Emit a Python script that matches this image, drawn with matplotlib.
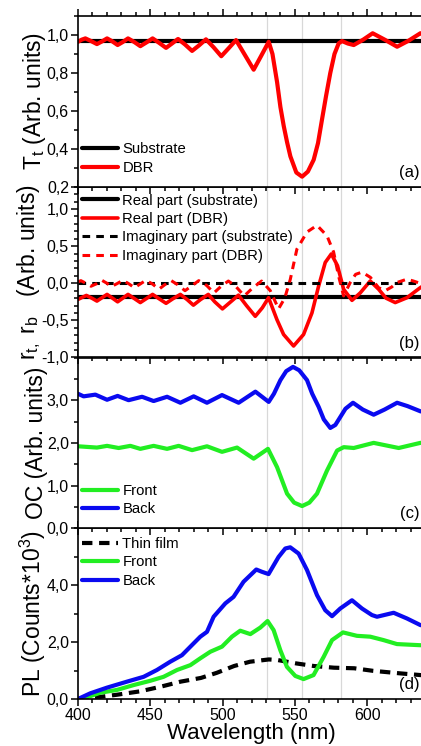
import numpy as np
import matplotlib
matplotlib.use("Agg")
import matplotlib.pyplot as plt
from matplotlib.ticker import MultipleLocator, FuncFormatter

plt.rcParams['font.family'] = ['Liberation Sans', 'DejaVu Sans']
plt.rcParams['mathtext.default'] = 'regular'
plt.rcParams['lines.solid_joinstyle'] = 'round'
plt.rcParams['lines.solid_capstyle'] = 'round'

# ---- data ----
# substrate lines (flat)
wl_sub = [400, 640]
T_sub = [0.97, 0.97]
r_real_sub = [-0.19, -0.19]
r_imag_sub = [0.0, 0.0]

# (a) transmittance of the DBR
wl_T = [400.0, 402.5, 405.1, 409.0, 413.1, 416.6, 420.1, 423.8, 427.4, 431.0,
        434.6, 438.9, 443.1, 447.4, 451.6, 456.2, 460.9, 465.0, 469.2, 474.0,
        478.9, 483.7, 488.5, 493.8, 499.1, 504.2, 509.3, 515.4, 521.5, 526.7,
        531.9, 534.5, 537.7, 540.0, 542.3, 544.6, 546.9, 551.0, 555.0, 559.0,
        563.0, 566.0, 568.8, 571.6, 574.5, 577.4, 580.3, 582.6, 586.6, 590.7,
        597.2, 603.8, 612.2, 620.7, 628.7, 636.8, 640.0]
T_dbr = [0.964, 0.975, 0.982, 0.968, 0.952, 0.966, 0.982, 0.966, 0.947, 0.963,
         0.982, 0.963, 0.941, 0.961, 0.982, 0.958, 0.932, 0.955, 0.979, 0.950,
         0.916, 0.945, 0.977, 0.935, 0.888, 0.930, 0.973, 0.895, 0.817, 0.890,
         0.964, 0.900, 0.751, 0.620, 0.520, 0.435, 0.360, 0.275, 0.253, 0.280,
         0.342, 0.430, 0.556, 0.680, 0.800, 0.900, 0.956, 0.968, 0.955, 0.947,
         0.975, 1.009, 0.975, 0.938, 0.970, 1.009, 1.005]

# (b) reflection coefficient, real part of the DBR
wl_rr = [400.0, 402.9, 405.8, 409.5, 413.1, 416.6, 420.1, 423.8, 427.4, 431.0,
         434.6, 438.9, 443.1, 447.4, 451.6, 456.2, 460.9, 465.5, 470.8, 475.5,
         479.8, 484.7, 490.1, 494.6, 499.9, 505.6, 511.0, 516.5, 522.6, 527.5,
         531.8, 537.6, 542.2, 549.1, 556.0, 561.8, 566.4, 571.0, 575.2, 579.5,
         583.7, 589.5, 595.2, 602.1, 607.9, 613.0, 619.4, 627.5, 636.7, 640.0]
r_real_dbr = [-0.218, -0.19, -0.164, -0.20, -0.24, -0.195, -0.15, -0.20, -0.25, -0.20,
              -0.15, -0.205, -0.26, -0.205, -0.15, -0.21, -0.27, -0.21, -0.15, -0.22,
              -0.295, -0.22, -0.15, -0.25, -0.345, -0.25, -0.16, -0.30, -0.445, -0.33,
              -0.195, -0.49, -0.69, -0.845, -0.69, -0.40, -0.04, 0.28, 0.395, 0.236,
              -0.08, -0.23, -0.13, 0.03, -0.08, -0.20, -0.26, -0.195, -0.06, -0.02]

# (b) imaginary part of the DBR
wl_ri = [400.0, 402.0, 405.5, 409.0, 413.0, 416.5, 420.0, 423.0, 427.0, 431.0,
         435.0, 439.0, 443.0, 447.0, 451.5, 456.0, 460.0, 464.5, 469.0, 474.0,
         479.0, 483.5, 489.0, 494.0, 499.0, 504.0, 509.0, 515.0, 521.0, 527.0,
         533.0, 538.7, 543.0, 546.8, 551.4, 558.4, 565.3, 572.2, 576.8, 580.2,
         583.7, 588.3, 592.0, 596.4, 602.2, 607.9, 612.5, 617.0, 620.6, 627.5,
         632.0, 638.0]
r_imag_dbr = [0.02, 0.035, 0.0, -0.04, -0.005, 0.04, 0.0, -0.045, -0.005, 0.04,
              -0.005, -0.06, -0.01, 0.04, -0.01, -0.08, -0.02, 0.035, -0.02, -0.10,
              -0.03, 0.035, -0.03, -0.13, -0.04, 0.03, -0.04, -0.17, -0.06, 0.03,
              -0.10, -0.345, -0.20, 0.05, 0.46, 0.69, 0.78, 0.64, 0.42, 0.10,
              -0.17, 0.01, 0.12, 0.15, 0.08, -0.06, -0.10, -0.05, 0.01, 0.055,
              0.03, -0.01]

# (c) outcoupling, front and back
wl_oc_back = [400.0, 403.9, 412.0, 420.1, 427.4, 435.0, 444.3, 452.3, 461.6, 470.8,
              480.0, 489.2, 499.6, 511.1, 522.7, 531.9, 535.5, 540.0, 544.0, 548.7,
              553.0, 558.4, 562.0, 566.5, 570.0, 574.5, 578.0, 581.5, 585.0, 590.2,
              597.0, 604.5, 612.0, 620.7, 628.0, 636.8, 640.0]
oc_back = [3.15, 3.09, 3.13, 3.01, 3.10, 3.00, 3.08, 2.98, 3.08, 2.94,
           3.09, 2.94, 3.12, 2.94, 3.20, 2.96, 3.15, 3.47, 3.68, 3.78,
           3.70, 3.47, 3.15, 2.84, 2.55, 2.35, 2.42, 2.61, 2.80, 2.94,
           2.78, 2.66, 2.78, 2.94, 2.86, 2.74, 2.72]

wl_oc_front = [400.0, 413.1, 420.1, 428.1, 436.2, 443.1, 452.3, 461.6, 469.6, 478.9,
               489.2, 499.6, 510.0, 521.5, 531.4, 537.7, 544.6, 549.5, 555.0, 560.0,
               565.3, 572.2, 579.2, 583.8, 590.7, 604.5, 621.8, 636.8, 640.0]
oc_front = [1.92, 1.89, 1.93, 1.88, 1.93, 1.86, 1.93, 1.86, 1.93, 1.83,
            1.92, 1.79, 1.89, 1.63, 1.86, 1.43, 0.81, 0.60, 0.52, 0.60,
            0.81, 1.35, 1.82, 1.90, 1.88, 2.00, 1.88, 2.00, 2.00]

# (d) photoluminescence
wl_pl_back = [400.0, 408.5, 420.1, 433.9, 445.4, 454.6, 463.8, 471.9, 479.9, 484.6,
              489.2, 493.8, 501.9, 507.6, 514.5, 523.3, 527.2, 531.8, 538.7, 543.4,
              546.8, 552.6, 558.4, 565.3, 571.0, 575.7, 581.4, 589.5, 596.4, 603.3,
              606.8, 618.3, 627.5, 636.7, 640.0]
pl_back = [0.0, 0.20, 0.40, 0.61, 0.78, 1.02, 1.31, 1.54, 1.95, 2.19,
           2.36, 2.89, 3.36, 3.59, 4.12, 4.55, 4.47, 4.39, 4.99, 5.29,
           5.33, 5.11, 4.53, 3.65, 3.12, 2.91, 3.18, 3.47, 3.18, 2.95,
           2.89, 3.03, 2.83, 2.60, 2.56]

wl_pl_front = [400.0, 408.5, 415.4, 427.0, 438.5, 450.0, 459.2, 468.5, 477.7, 484.6,
               491.5, 499.6, 506.5, 512.2, 519.2, 526.1, 531.1, 535.3, 539.9, 544.5,
               550.3, 556.0, 562.9, 569.9, 575.7, 583.3, 592.9, 602.1, 611.3, 620.6,
               636.7, 640.0]
pl_front = [0.0, 0.10, 0.22, 0.32, 0.49, 0.64, 0.78, 1.02, 1.19, 1.43,
            1.66, 1.84, 2.19, 2.40, 2.28, 2.51, 2.74, 2.42, 1.72, 1.13,
            0.81, 0.70, 0.84, 1.48, 2.07, 2.34, 2.22, 2.19, 2.07, 1.93,
            1.89, 1.89]

wl_pl_film = [400, 413, 427, 443, 457, 471, 485, 496, 508, 519,
              532, 538, 551, 563, 577, 591, 604, 623, 637, 640]
pl_film = [0.0, 0.06, 0.15, 0.27, 0.43, 0.61, 0.74, 0.92, 1.16, 1.31,
           1.39, 1.37, 1.25, 1.16, 1.10, 1.08, 0.99, 0.90, 0.84, 0.83]

# grey guide lines through the stop band
guide_wl = [531, 555, 582]

RED = '#ff0000'
GREEN = '#22ee22'
BLUE = '#0a0af0'
LABEL_SIZE = 16.5


def comma_fmt(v, pos):
    return f"{v:.1f}".replace('.', ',')


def style_axis(ax, ymin, ymax, major, minor, show_x=False, label_x=-0.087):
    ax.set_xlim(400, 640)
    ax.set_ylim(ymin, ymax)
    ax.xaxis.set_major_locator(MultipleLocator(50))
    ax.xaxis.set_minor_locator(MultipleLocator(10))
    ax.yaxis.set_major_locator(MultipleLocator(major))
    ax.yaxis.set_minor_locator(MultipleLocator(minor))
    ax.yaxis.set_major_formatter(FuncFormatter(comma_fmt))
    ax.tick_params(which='both', direction='out', top=True, right=True, width=1.1,
                   labelsize=11.5, labelbottom=show_x, pad=1.5)
    ax.tick_params(which='major', length=5)
    ax.tick_params(which='minor', length=3)
    for s in ax.spines.values():
        s.set_linewidth(1.2)
    for g in guide_wl:
        ax.axvline(g, color='#d8d8d8', lw=0.9, zorder=0)
    ax.yaxis.set_label_coords(label_x, 0.5)


def make_legend(ax, loc, anchor):
    ax.legend(loc=loc, bbox_to_anchor=anchor, frameon=False, fontsize=10.7,
              handlelength=2.4, handletextpad=0.3, labelspacing=0.3,
              borderaxespad=0, borderpad=0)


fig = plt.figure(figsize=(4.21, 7.46), dpi=100)
left, width = 78 / 421, 347 / 421
h = 170.75 / 746
bottom0 = 1 - 699 / 746
ax_d = fig.add_axes([left, bottom0, width, h])
ax_c = fig.add_axes([left, bottom0 + h, width, h])
ax_b = fig.add_axes([left, bottom0 + 2 * h, width, h])
ax_a = fig.add_axes([left, bottom0 + 3 * h, width, h])

# (a)
ax_a.plot(wl_sub, T_sub, color='black', lw=3, label='Substrate')
ax_a.plot(wl_T, T_dbr, color=RED, lw=3, label='DBR')
style_axis(ax_a, 0.2, 1.1, 0.2, 0.1)
ax_a.set_ylabel('T$_t$ (Arb. units)', fontsize=LABEL_SIZE)
make_legend(ax_a, 'lower left', (0.012, 0.07))

# (b)
ax_b.plot(wl_sub, r_real_sub, color='black', lw=3, label='Real part (substrate)')
ax_b.plot(wl_rr, r_real_dbr, color=RED, lw=2.6, label='Real part (DBR)')
ax_b.plot(wl_sub, r_imag_sub, color='black', lw=2.2, ls=(0, (2.5, 2)),
          label='Imaginary part (substrate)')
ax_b.plot(wl_ri, r_imag_dbr, color=RED, lw=2.2, ls=(0, (2.5, 2)),
          label='Imaginary part (DBR)')
style_axis(ax_b, -1.0, 1.3, 0.5, 0.1, label_x=-0.1)
ax_b.set_ylabel('r$_{t,}$ r$_b$   (Arb. units)', fontsize=LABEL_SIZE)
make_legend(ax_b, 'upper left', (0.012, 0.96))

# (c)
ax_c.plot(wl_oc_front, oc_front, color=GREEN, lw=3, label='Front')
ax_c.plot(wl_oc_back, oc_back, color=BLUE, lw=3, label='Back')
style_axis(ax_c, 0.0, 4.0, 1.0, 0.5)
ax_c.set_yticks([0, 1, 2, 3])
ax_c.set_ylabel('OC (Arb. units)', fontsize=LABEL_SIZE)
make_legend(ax_c, 'lower left', (0.012, 0.07))

# (d)
ax_d.plot(wl_pl_film, pl_film, color='black', lw=3, ls=(0, (2.5, 1.6)), label='Thin film')
ax_d.plot(wl_pl_front, pl_front, color=GREEN, lw=3, label='Front')
ax_d.plot(wl_pl_back, pl_back, color=BLUE, lw=3, label='Back')
style_axis(ax_d, 0.0, 6.0, 2.0, 1.0, show_x=True)
ax_d.set_yticks([0, 2, 4])
ax_d.set_ylabel('PL (Counts*10$^3$)', fontsize=LABEL_SIZE)
ax_d.set_xlabel('Wavelength (nm)', fontsize=16)
ax_d.xaxis.set_label_coords(0.5, -0.14)
make_legend(ax_d, 'upper left', (0.012, 0.95))

for ax, tag in zip([ax_a, ax_b, ax_c, ax_d], ['(a)', '(b)', '(c)', '(d)']):
    ax.text(0.985, 0.04, tag, transform=ax.transAxes, ha='right', va='bottom',
            fontsize=12)

fig.savefig('out.png', dpi=100)
